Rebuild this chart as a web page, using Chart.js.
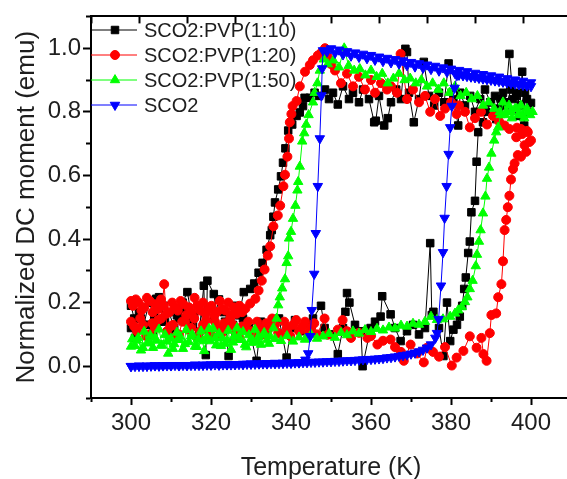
<!DOCTYPE html>
<html>
<head>
<meta charset="utf-8">
<title>SCO2 DC moment hysteresis</title>
<script src="https://cdn.jsdelivr.net/npm/chart.js@4/dist/chart.umd.min.js"></script>
<style>
  html, body { margin: 0; padding: 0; background: #fff; overflow: hidden; }
  #wrap { width: 567px; height: 479px; overflow: hidden; }
</style>
</head>
<body>
<div id="wrap"><canvas id="chart" width="575" height="479"></canvas></div>
<script>
// Axis ticks and labels
const xTicks = [290, 300, 310, 320, 330, 340, 350, 360, 370, 380, 390, 400, 410];
const xLabels = [300, 320, 340, 360, 380, 400];
const yTicks = [-0.1, 0.0, 0.1, 0.2, 0.3, 0.4, 0.5, 0.6, 0.7, 0.8, 0.9, 1.0, 1.1];
const yLabels = [0.0, 0.2, 0.4, 0.6, 0.8, 1.0];
const topTicks = [0, 1, 2, 3, 4, 5, 6, 7, 8, 9, 10];

const seriesNames = ['SCO2:PVP(1:10)', 'SCO2:PVP(1:20)', 'SCO2:PVP(1:50)', 'SCO2'];

// SCO2:PVP(1:10) - heating then cooling
const blackHeatT = [
  300, 301, 302.5, 304, 305.5, 306.3, 307, 308.5, 310, 311.5,
  312.9, 314.1, 315.5, 317, 318.2, 318.7, 319.1, 320.7, 322, 323.5,
  324.4, 325.5, 326.9, 328, 329.5, 331.4, 332.5, 334, 335.5, 337,
  338.9, 340, 341, 342.5, 344, 345.5, 347.5, 348.4, 350, 351.7,
  353, 353.6, 354, 354.6, 356, 357.5, 357.9, 359.9, 361, 362.4,
  362.8, 364.9, 366, 367.4, 369, 370.5, 372, 373.5, 374.8, 375.2,
  375.6, 377, 378.1, 379, 379.8, 380.6, 381.5, 382.2, 382.8, 383.3,
  383.7, 384.3, 384.7, 385.1, 386.0, 386.4, 386.8, 388.0, 388.8, 390.0,
  391.3, 392.5, 393.5, 394.6, 395.5, 396.5, 397.1, 397.8, 398.3, 399.0,
  400
];
const blackHeatM = [
  0.120, 0.089, 0.150, 0.130, 0.100, 0.212, 0.217, 0.140, 0.110, 0.160,
  0.200, 0.233, 0.130, 0.100, 0.253, 0.035, 0.269, 0.227, 0.120, 0.140,
  0.032, 0.130, 0.110, 0.150, 0.120, 0.017, 0.140, 0.110, 0.130, 0.150,
  0.027, 0.120, 0.145, 0.110, 0.130, 0.150, 0.190, 0.120, 0.100, 0.038,
  0.120, 0.171, 0.230, 0.200, 0.130, 0.110, 0.000, 0.120, 0.140, 0.156,
  0.220, 0.163, 0.120, 0.079, 0.110, 0.130, 0.100, 0.120, 0.387, 0.161,
  0.171, 0.120, 0.032, 0.200, 0.079, 0.115, 0.130, 0.156, 0.190, 0.243,
  0.279, 0.356, 0.392, 0.484, 0.520, 0.643, 0.736, 0.767, 0.800, 0.830,
  0.777, 0.840, 0.820, 0.982, 0.840, 0.860, 0.787, 0.926, 0.757, 0.840,
  0.828
];
const blackCoolT = [
  399.5, 398.5, 397.5, 396.3, 395, 394, 393, 392, 391, 389.8,
  388.5, 387.3, 386, 384.8, 383.5, 382.3, 381.8, 380.6, 379.4, 378.3,
  377, 375.8, 374.5, 373.2, 372, 370.7, 369.5, 369, 368.6, 367.5,
  366.3, 365, 364.2, 363.3, 362, 361.2, 360.8, 359.5, 358, 357,
  355.5, 354.5, 353, 351.7, 350.5, 349.5, 348.5,
  347, 345.9, 344.7, 343.4, 343, 342.2, 341.4, 340.3, 339.3, 338.6,
  338.0, 337.5, 336.8, 336.0, 335.6, 335.2, 334.8, 333.9, 332.9, 331.9,
  330.8, 329.8, 328.2,
  327, 325.8, 324.5, 323.2, 322, 320.8, 319.5, 318.2, 317, 315.8,
  314.5, 313.2, 312, 310.8, 309.5, 308.2, 307, 305.8, 304.5, 303.2,
  302, 300.8, 300
];
const blackCoolM = [
  0.800, 0.860, 0.820, 0.850, 0.870, 0.830, 0.860, 0.810, 0.850, 0.830,
  0.870, 0.840, 0.800, 0.850, 0.820, 0.860, 0.757, 0.840, 0.952, 0.830,
  0.860, 0.820, 0.850, 0.957, 0.840, 0.767, 0.860, 0.988, 0.998, 0.840,
  0.870, 0.830, 0.780, 0.757, 0.850, 0.772, 0.767, 0.840, 0.870, 0.830,
  0.860, 0.840, 0.880, 0.823, 0.860, 0.840, 0.870,
  0.850, 0.860, 0.844, 0.844, 0.818, 0.798, 0.787, 0.760, 0.741, 0.685,
  0.640, 0.597, 0.556, 0.515, 0.470, 0.428, 0.412, 0.366, 0.325, 0.294,
  0.260, 0.243, 0.233,
  0.160, 0.190, 0.140, 0.170, 0.210, 0.150, 0.180, 0.130, 0.190, 0.160,
  0.140, 0.180, 0.150, 0.120, 0.170, 0.190, 0.140, 0.160, 0.200, 0.130,
  0.170, 0.150, 0.190
];

// SCO2:PVP(1:20)
const redHeatT = [
  300, 300.8, 301.5, 302.3, 303, 303.8, 304.5, 305.3, 306, 306.8,
  307.5, 308.3, 309, 309.8, 310.5, 311.3, 312, 312.8, 313.5, 314.3,
  315, 315.8, 316.5, 317.3, 318, 318.8, 319.5, 320.3, 321, 321.8,
  322.5, 323.3, 324, 324.8, 325.5, 326.3, 327, 327.8, 328.5, 329.3,
  330, 330.8, 331.5, 332.3, 333, 333.8, 334.5, 335.3, 336, 336.8,
  337.5, 338.3, 339, 339.8, 340.5, 341.3, 342, 342.8, 343.5, 344.3,
  345, 345.8, 346.5,
  348.4, 349.2, 351.7, 352.9, 354, 355, 357,
  359.1, 360, 361.6, 363, 364.9, 366, 367.5, 368.2, 369.9, 371.5,
  373.2, 374, 375.5, 377, 378.5, 380.2, 381.4, 383.1, 384.7, 386.4,
  387.6, 388.1, 388.9, 389.7, 390.1, 391.3, 391.8, 392.6, 393.0, 393.4,
  393.8, 394.2, 394.6, 395.0, 395.5, 395.9, 396.7, 397.5, 398.8, 399.6,
  399.2, 397.5, 396.3, 398.4, 400
];
const redHeatM = [
  0.140, 0.125, 0.110, 0.150, 0.130, 0.095, 0.100, 0.135, 0.120, 0.145,
  0.150, 0.258, 0.110, 0.125, 0.130, 0.095, 0.100, 0.140, 0.140, 0.115,
  0.120, 0.150, 0.090, 0.110, 0.130, 0.145, 0.110, 0.095, 0.140, 0.120,
  0.100, 0.135, 0.120, 0.150, 0.130, 0.105, 0.090, 0.125, 0.120, 0.140,
  0.110, 0.095, 0.140, 0.120, 0.100, 0.135, 0.120, 0.150, 0.130, 0.105,
  0.100, 0.140, 0.120, 0.095, 0.130, 0.145, 0.110, 0.125, 0.140, 0.105,
  0.120, 0.135, 0.100,
  0.150, 0.099, 0.115, 0.145, 0.110, 0.089, 0.105,
  0.089, 0.095, 0.068, 0.080, 0.084, 0.060, 0.045, 0.017, 0.068, 0.040,
  0.012, 0.058, 0.045, 0.030, 0.060, 0.002, 0.027, 0.048, 0.094, 0.058,
  0.089, 0.038, 0.017, 0.104, 0.161, 0.166, 0.217, 0.258, 0.330, 0.428,
  0.460, 0.500, 0.536, 0.587, 0.620, 0.638, 0.664, 0.659, 0.674, 0.705,
  0.736, 0.746, 0.720, 0.695, 0.710
];
const redCoolT = [
  399, 397.8, 396.5, 394.6, 393.4, 392, 390.5, 389, 387.5, 386,
  384.7, 383.5, 382, 381.4, 380, 378.5, 377.3, 376, 374.8, 373.5,
  372, 370.5, 369, 367.4, 366.5, 365, 364, 362.5, 361, 360,
  358.5, 357, 355.5, 354, 352.5, 351, 350, 349.2, 348.5, 347.5,
  346.7, 345.5, 344.7, 343.5, 342.2, 341.4, 340.4, 340.1, 339.7, 339.5,
  339.1, 338.5, 338.1, 337.3, 336.7, 335.6, 334.8, 334.2, 333.4, 332.7,
  331.9, 331.1, 329.8, 328.6,
  327.8, 327.1, 326.4, 325.7, 325, 324.3, 323.6, 322.9, 322.2, 321.5,
  320.8, 320.1, 319.4, 318.7, 318, 317.3, 316.6, 315.9, 315.2, 314.5,
  313.8, 313.1, 312.4, 311.7, 311, 310.3, 309.6, 308.9, 308.2, 307.5,
  306.8, 306.1, 305.4, 304.7, 304, 303.3, 302.6, 301.9, 301.2, 300.5,
  300
];
const redCoolM = [
  0.740, 0.730, 0.750, 0.746, 0.757, 0.770, 0.787, 0.760, 0.800, 0.780,
  0.751, 0.800, 0.820, 0.793, 0.830, 0.810, 0.787, 0.840, 0.800, 0.850,
  0.830, 0.870, 0.840, 0.982, 0.860, 0.880, 0.870, 0.890, 0.860, 0.900,
  0.870, 0.910, 0.880, 0.920, 0.890, 0.930, 0.950, 0.972, 1.000, 0.985,
  0.977, 0.962, 0.947, 0.926, 0.880, 0.834, 0.818, 0.793, 0.767, 0.716,
  0.659, 0.602, 0.566, 0.505, 0.474, 0.440, 0.377, 0.348, 0.304, 0.269,
  0.238, 0.212, 0.197, 0.181,
  0.170, 0.190, 0.165, 0.185, 0.160, 0.200, 0.175, 0.180, 0.205, 0.170,
  0.160, 0.190, 0.180, 0.165, 0.200, 0.175, 0.190, 0.215, 0.170, 0.185,
  0.160, 0.195, 0.205, 0.175, 0.185, 0.200, 0.170, 0.165, 0.190, 0.210,
  0.180, 0.195, 0.170, 0.205, 0.215, 0.185, 0.175, 0.200, 0.210, 0.190,
  0.205
];

// SCO2:PVP(1:50)
const greenHeatT = [
  300, 301.5, 303, 304.5, 306, 307.5, 309, 310.5, 312, 313.5,
  315, 316.5, 318, 319.5, 321, 322.5, 324, 325.5, 327, 328.5,
  330, 331.5, 333, 334.5, 336, 337.5, 339, 340.5, 342, 343.5,
  345, 346.5, 348, 349.5, 351, 352.5, 354, 355.5, 357, 358.5,
  360, 361.5, 363, 364.5, 366, 367.5, 369, 370.5, 372, 373.5,
  375, 376.5, 378,
  379.8, 381.0, 381.8, 382.7, 383.5, 384.1, 384.7, 385.4, 386.2, 386.5,
  387.0, 387.4, 388.0, 388.6, 389.0, 389.5, 390.1, 390.8, 391.3, 391.8,
  392.4, 393.0, 393.8, 394.5, 395.2, 396.0, 396.8, 397.5, 398.3, 399.0,
  399.8, 400.4
];
const greenHeatM = [
  0.062, 0.081, 0.058, 0.074, 0.090, 0.066, 0.078, 0.055, 0.083, 0.070,
  0.094, 0.061, 0.079, 0.118, 0.088, 0.064, 0.081, 0.075, 0.093, 0.068,
  0.084, 0.077, 0.098, 0.071, 0.086, 0.080, 0.095, 0.078, 0.091, 0.084,
  0.099, 0.087, 0.094, 0.102, 0.090, 0.105, 0.098, 0.110, 0.103, 0.114,
  0.108, 0.118, 0.113, 0.122, 0.119, 0.128, 0.125, 0.134, 0.131, 0.140,
  0.156, 0.146, 0.148,
  0.156, 0.166, 0.176, 0.186, 0.202, 0.217, 0.243, 0.269, 0.315, 0.351,
  0.392, 0.428, 0.481, 0.534, 0.590, 0.625, 0.669, 0.710, 0.736, 0.751,
  0.790, 0.830, 0.800, 0.820, 0.780, 0.810, 0.790, 0.820, 0.780, 0.810,
  0.790, 0.800
];
const greenCoolT = [
  399.2, 397.8, 396.4, 395, 393.6, 392.2, 390.8, 389.4, 388, 386.6,
  385.2, 383.8, 382.4, 381, 379.6, 378.2, 376.8, 375.4, 374, 372.6,
  371.2, 369.8, 368.4, 367, 365.6, 364.2, 362.8, 361.4, 360, 358.6,
  357.2, 355.8, 354.4, 353.3, 352, 350.6, 349.2, 348.2,
  347.2, 346.6, 345.9, 345.5, 344.4, 343.8, 343.3, 342.8, 342.2, 341.8,
  341.6, 341.1, 340.5, 340.0, 339.5, 339.3, 338.9, 338.5, 337.8, 337.2,
  336.8, 336.4, 335.6, 334.8,
  334, 333.3, 332.5, 331.8, 331, 330.3, 329.5, 328.8, 328, 327.3,
  326.5, 325.8, 325, 324.3, 323.5, 322.8, 322, 321.3, 320.5, 319.8,
  319, 318.3, 317.5, 316.8, 316, 315.3, 314.5, 313.8, 313, 312.3,
  311.5, 310.8, 310, 309.3, 308.5, 307.8, 307, 306.3, 305.5, 304.8,
  304, 303.3, 302.5, 301.8, 301, 300.3
];
const greenCoolM = [
  0.800, 0.790, 0.810, 0.800, 0.790, 0.800, 0.810, 0.830, 0.820, 0.850,
  0.840, 0.860, 0.850, 0.880, 0.860, 0.890, 0.870, 0.890, 0.880, 0.900,
  0.890, 0.905, 0.900, 0.920, 0.905, 0.890, 0.920, 0.910, 0.930, 0.915,
  0.935, 0.930, 0.945, 1.000, 0.940, 0.962, 0.950, 0.965,
  0.930, 0.890, 0.860, 0.830, 0.790, 0.760, 0.733, 0.707, 0.628, 0.580,
  0.553, 0.505, 0.464, 0.423, 0.402, 0.346, 0.325, 0.274, 0.245, 0.217,
  0.192, 0.150, 0.120, 0.094,
  0.082, 0.105, 0.068, 0.092, 0.115, 0.074, 0.098, 0.060, 0.108, 0.083,
  0.120, 0.095, 0.052, 0.112, 0.071, 0.088, 0.102, 0.066, 0.118, 0.079,
  0.091, 0.048, 0.110, 0.084, 0.062, 0.100, 0.076, 0.114, 0.055, 0.093,
  0.106, 0.070, 0.087, 0.040, 0.099, 0.065, 0.116, 0.081, 0.058, 0.097,
  0.072, 0.109, 0.050, 0.089, 0.064, 0.085
];

// SCO2 (no PVP)
const sco2HeatT = [
  300, 301, 302, 303, 304, 305, 306, 307, 308, 309,
  310, 311, 312, 313, 314, 315, 316, 317, 318, 319,
  320, 321, 322, 323, 324, 325, 326, 327, 328, 329,
  330, 331, 332, 333, 334, 335, 336, 337, 338, 339,
  340, 341, 342, 343, 344, 345, 346, 347, 348, 349,
  350, 351, 352, 353, 354, 355, 356, 357, 358, 359,
  360, 361, 362, 363, 364, 365, 366, 367, 368, 369,
  370, 371, 372, 373, 374, 375,
  376.1, 376.5, 376.9, 377.5, 378.0, 378.4, 378.9, 379.4, 379.8, 380.2, 380.9, 381.5,
  382, 383, 384, 385, 386, 387, 388, 389, 390, 391,
  392, 393, 394, 395, 396, 397, 398, 399, 400
];
const sco2HeatM = [
  0.000, 0.000, 0.001, 0.000, 0.001, 0.001, 0.002, 0.001, 0.002, 0.002,
  0.002, 0.003, 0.002, 0.003, 0.003, 0.003, 0.004, 0.003, 0.004, 0.004,
  0.004, 0.005, 0.004, 0.005, 0.005, 0.005, 0.006, 0.006, 0.006, 0.007,
  0.007, 0.007, 0.008, 0.008, 0.008, 0.009, 0.009, 0.009, 0.010, 0.010,
  0.010, 0.011, 0.011, 0.012, 0.012, 0.013, 0.013, 0.014, 0.014, 0.015,
  0.015, 0.016, 0.016, 0.017, 0.018, 0.018, 0.019, 0.020, 0.021, 0.022,
  0.022, 0.023, 0.024, 0.025, 0.027, 0.028, 0.030, 0.032, 0.034, 0.036,
  0.039, 0.042, 0.046, 0.051, 0.058, 0.068,
  0.089, 0.104, 0.148, 0.253, 0.358, 0.466, 0.566, 0.667, 0.751, 0.818, 0.875, 0.915,
  0.916, 0.914, 0.912, 0.910, 0.908, 0.906, 0.904, 0.902, 0.900, 0.898,
  0.896, 0.894, 0.892, 0.890, 0.888, 0.886, 0.884, 0.882, 0.880
];
const sco2CoolT = [
  400, 399, 398, 397, 396, 395, 394, 393, 392, 391,
  390, 389, 388, 387, 386, 385, 384, 383, 382, 381,
  380, 379, 378, 377, 376, 375, 374, 373, 372, 371,
  370, 369, 368, 367, 366, 365, 364, 363, 362, 361,
  360, 359, 358, 357, 356, 355, 354, 353, 352, 351,
  350, 349, 348,
  347.8, 347.6, 347.2, 346.7, 346.2, 345.8, 345.2, 344.8, 344.3, 343.6,
  342, 340, 338, 336, 334, 332, 330, 328, 326, 324,
  322, 320, 318, 316, 314, 312, 310, 308, 306, 304,
  302, 300
];
const sco2CoolM = [
  0.892, 0.883, 0.897, 0.887, 0.901, 0.891, 0.905, 0.895, 0.910, 0.900,
  0.914, 0.904, 0.918, 0.908, 0.922, 0.912, 0.927, 0.917, 0.931, 0.921,
  0.935, 0.925, 0.939, 0.929, 0.944, 0.934, 0.948, 0.938, 0.952, 0.942,
  0.956, 0.946, 0.961, 0.951, 0.965, 0.955, 0.969, 0.959, 0.973, 0.963,
  0.978, 0.968, 0.982, 0.972, 0.986, 0.976, 0.990, 0.980, 0.995, 0.985,
  0.999, 0.989, 0.993,
  0.936, 0.851, 0.716, 0.566, 0.418, 0.290, 0.176, 0.094, 0.040, 0.020,
  0.012, 0.011, 0.010, 0.010, 0.009, 0.008, 0.008, 0.007, 0.006, 0.006,
  0.005, 0.005, 0.004, 0.004, 0.003, 0.003, 0.003, 0.002, 0.002, 0.001,
  0.001, 0.000
];

function toPoints(tList, mList) {
  return tList.map((t, i) => ({ x: t, y: mList[i] }));
}

function loop(heatT, heatM, coolT, coolM) {
  return toPoints(heatT, heatM).concat(toPoints(coolT, coolM));
}

const textColor = '#1e1e1e';
Chart.defaults.font.family = "'Liberation Sans', Arial, sans-serif";
Chart.defaults.color = textColor;

function series(i, color, style, radius, rotation, order, points) {
  return {
    label: seriesNames[i],
    data: points,
    showLine: true,
    borderColor: color,
    borderWidth: 1,
    backgroundColor: color,
    pointBackgroundColor: color,
    pointBorderColor: color,
    pointBorderWidth: 1,
    pointStyle: style,
    pointRadius: radius,
    pointRotation: rotation,
    order: order
  };
}

const datasets = [
  series(0, '#000000', 'rect', 5.3, 0, 4, loop(blackHeatT, blackHeatM, blackCoolT, blackCoolM)),
  series(1, '#ff0000', 'circle', 4.5, 0, 3, loop(redHeatT, redHeatM, redCoolT, redCoolM)),
  series(2, '#00ff00', 'triangle', 5.4, 0, 2, loop(greenHeatT, greenHeatM, greenCoolT, greenCoolM)),
  series(3, '#0000ff', 'triangle', 5.5, 180, 1, loop(sco2HeatT, sco2HeatM, sco2CoolT, sco2CoolM))
];

const near = (list, v) => list.some(l => Math.abs(l - v) < 1e-6);

// Legend sits inside the plot, top-left, line + marker + name.
const insetLegend = {
  id: 'insetLegend',
  afterDraw(chart) {
    const { ctx, chartArea } = chart;
    const x0 = chartArea.left;
    ctx.save();
    chart.data.datasets.forEach((ds, i) => {
      const y = 30 + i * 25;
      ctx.strokeStyle = ds.borderColor;
      ctx.lineWidth = 1;
      ctx.beginPath();
      ctx.moveTo(x0, y);
      ctx.lineTo(x0 + 46, y);
      ctx.stroke();
      ctx.fillStyle = ds.backgroundColor;
      Chart.helpers.drawPoint(ctx, {
        pointStyle: ds.pointStyle,
        radius: ds.pointRadius,
        rotation: ds.pointRotation,
        borderWidth: 1
      }, x0 + 24, y);
      ctx.fillStyle = textColor;
      ctx.font = "20px 'Liberation Sans', Arial, sans-serif";
      ctx.textBaseline = 'middle';
      ctx.textAlign = 'left';
      ctx.fillText(ds.label, x0 + 53, y + 1);
    });
    ctx.restore();
  }
};

new Chart(document.getElementById('chart'), {
  type: 'scatter',
  data: { datasets },
  options: {
    responsive: false,
    animation: false,
    events: [],
    layout: { padding: 0, autoPadding: false },
    plugins: { legend: { display: false }, tooltip: { enabled: false } },
    scales: {
      x: {
        type: 'linear',
        position: 'bottom',
        min: 290,
        max: 410,
        afterBuildTicks: s => { s.ticks = xTicks.map(v => ({ value: v })); },
        afterFit: s => { s.height = 81; },
        border: { display: true, color: '#000', width: 2 },
        grid: {
          drawOnChartArea: false,
          tickLength: 7,
          tickWidth: 2,
          tickColor: '#000',
          tickBorderDash: c => (c.tick && near(xLabels, c.tick.value)) ? [] : [3, 20]
        },
        ticks: {
          autoSkip: false,
          maxRotation: 0,
          padding: 4,
          color: textColor,
          font: { size: 24 },
          callback: v => near(xLabels, v) ? String(v) : ''
        },
        title: {
          display: true,
          text: 'Temperature (K)',
          color: textColor,
          font: { size: 25, lineHeight: 0.85 },
          padding: 0
        }
      },
      xTop: {
        type: 'linear',
        position: 'top',
        min: 0,
        max: 10,
        afterBuildTicks: s => { s.ticks = topTicks.map(v => ({ value: v })); },
        afterFit: s => { s.height = 8; },
        border: { display: true, color: '#000', width: 2 },
        grid: { drawOnChartArea: false, tickLength: -7, tickWidth: 2, tickColor: '#000' },
        ticks: { display: false }
      },
      y: {
        type: 'linear',
        position: 'left',
        min: -0.1,
        max: 1.1,
        afterBuildTicks: s => { s.ticks = yTicks.map(v => ({ value: v })); },
        afterFit: s => { s.width = 91; },
        border: { display: true, color: '#000', width: 2 },
        grid: {
          drawOnChartArea: false,
          tickLength: 8,
          tickWidth: 2,
          tickColor: '#000',
          tickBorderDash: c => (c.tick && near(yLabels, c.tick.value)) ? [] : [0, 3, 4, 20]
        },
        ticks: {
          autoSkip: false,
          padding: 2,
          color: textColor,
          font: { size: 24 },
          callback: v => near(yLabels, v) ? v.toFixed(1) : ''
        },
        title: {
          display: true,
          text: 'Normalized DC moment (emu)',
          color: textColor,
          font: { size: 26 },
          padding: { top: 11, bottom: 0 }
        }
      }
    }
  },
  plugins: [insetLegend]
});
</script>
</body>
</html>
